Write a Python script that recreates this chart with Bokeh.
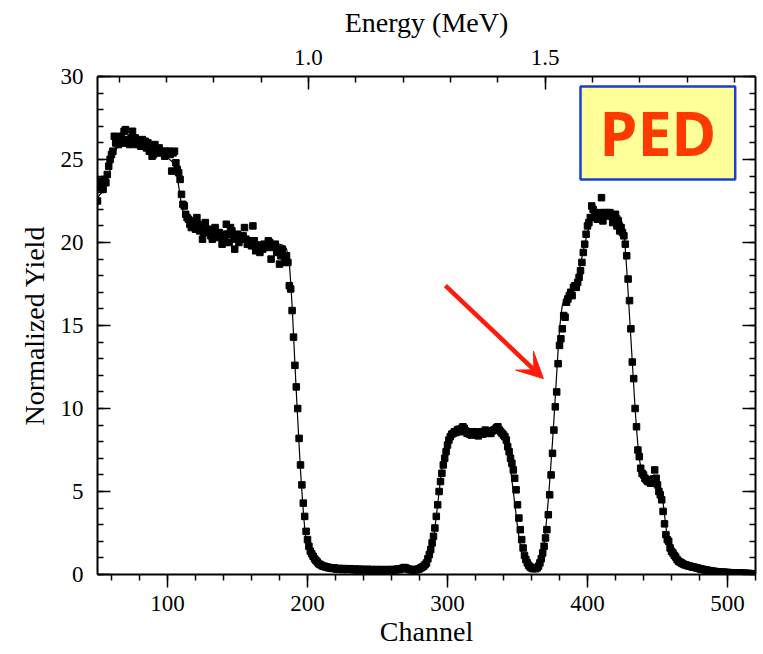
from bokeh.plotting import figure
from bokeh.models import (LinearAxis, Range1d, SingleIntervalTicker, PrintfTickFormatter,
                          CustomJSTickFormatter, BoxAnnotation, Label, Arrow, VeeHead)
from bokeh.embed import file_html
from bokeh.resources import INLINE

# ---------------- data ----------------
CHANNEL_START = 50
MEASURED_YIELD = [
    22.5, 23.7, 23.3, 23.5, 23.2, 23.8, 23.6, 24.1, 24.6, 25.0,   # 50
    25.3, 25.5, 26.4, 26.0, 26.0, 25.9, 26.2, 26.4, 26.0, 26.7,   # 60
    26.8, 26.0, 26.2, 25.9, 26.3, 26.7, 26.0, 26.3, 25.9, 26.1,   # 70
    26.0, 25.8, 26.2, 25.9, 26.1, 25.7, 26.0, 25.5, 25.8, 25.2,   # 80
    25.3, 25.9, 25.4, 25.6, 25.7, 25.4, 25.5, 25.4, 25.2, 25.5,   # 90
    25.4, 25.5, 25.3, 24.3, 25.4, 25.5, 24.8, 24.4, 24.2, 23.8,   # 100
    22.9, 22.3, 22.2, 21.7, 21.5, 21.4, 21.1, 20.9, 21.3, 21.0,   # 110
    20.8, 21.5, 21.1, 20.7, 20.9, 20.2, 20.6, 21.2, 20.6, 20.8,   # 120
    20.6, 20.4, 20.2, 20.7, 20.9, 20.5, 20.3, 20.6, 20.4, 19.9,   # 130
    20.5, 20.3, 21.1, 20.5, 20.0, 20.9, 20.7, 20.4, 19.6, 20.2,   # 140
    20.5, 20.0, 20.2, 20.3, 20.4, 20.9, 20.2, 19.9, 20.1, 20.0,   # 150
    19.8, 21.0, 20.1, 19.5, 19.6, 19.8, 19.4, 19.8, 19.6, 19.9,   # 160
    19.7, 19.8, 20.1, 20.0, 19.0, 19.7, 19.8, 19.9, 19.4, 19.6,   # 170
    18.7, 19.2, 19.6, 19.2, 18.8, 19.2, 18.8, 17.4, 17.2, 15.9,   # 180
    14.3, 12.6, 11.3, 10.0, 8.2, 6.6, 5.4, 4.3, 3.5, 2.6,         # 190
    2.1, 1.7, 1.4, 1.25, 1.1, 0.95, 0.85, 0.75, 0.65, 0.6,        # 200
    0.55, 0.5, 0.5, 0.45, 0.45, 0.4, 0.42, 0.38, 0.36, 0.4,       # 210
    0.35, 0.33, 0.37, 0.32, 0.35, 0.3, 0.36, 0.33, 0.3, 0.34,     # 220
    0.31, 0.35, 0.3, 0.28, 0.33, 0.3, 0.27, 0.32, 0.29, 0.31,     # 230
    0.28, 0.3, 0.26, 0.31, 0.29, 0.27, 0.3, 0.28, 0.25, 0.3,      # 240
    0.27, 0.29, 0.26, 0.3, 0.28, 0.25, 0.29, 0.27, 0.3, 0.26,     # 250
    0.28, 0.3, 0.27, 0.31, 0.29, 0.33, 0.3, 0.35, 0.38, 0.42,     # 260
    0.4, 0.36, 0.32, 0.3, 0.28, 0.3, 0.27, 0.3, 0.28, 0.32,       # 270
    0.35, 0.4, 0.45, 0.5, 0.6, 0.7, 0.95, 1.2, 1.5, 1.9,          # 280
    2.3, 2.8, 3.5, 4.2, 5.0, 5.6, 6.1, 6.6, 7.0, 7.4,             # 290
    7.8, 8.1, 8.3, 8.45, 8.5, 8.6, 8.55, 8.7, 8.75, 8.6,          # 300
    8.8, 8.9, 8.8, 8.65, 8.5, 8.6, 8.45, 8.4, 8.55, 8.6,          # 310
    8.5, 8.4, 8.35, 8.5, 8.6, 8.45, 8.5, 8.7, 8.55, 8.5,          # 320
    8.6, 8.5, 8.65, 8.7, 8.75, 8.85, 8.9, 8.7, 8.6, 8.5,          # 330
    8.4, 8.3, 8.1, 7.7, 7.4, 7.0, 6.7, 6.3, 5.8, 5.1,             # 340
    4.2, 3.4, 2.7, 2.1, 1.6, 1.15, 0.9, 0.7, 0.55, 0.45,          # 350
    0.4, 0.35, 0.4, 0.35, 0.4, 0.5, 0.7, 0.95, 1.3, 1.7,          # 360
    2.2, 2.7, 3.6, 4.8, 6.0, 7.3, 8.7, 10.1, 11.0, 12.7,          # 370
    13.8, 14.2, 14.8, 15.6, 15.5, 16.4, 16.6, 16.8, 17.0, 16.8,   # 380
    17.3, 17.4, 17.3, 17.6, 17.9, 18.3, 18.8, 19.4, 19.9, 20.5,   # 390
    21.0, 21.2, 21.5, 22.2, 22.0, 21.8, 21.6, 21.4, 21.7, 21.8,   # 400
    22.7, 21.3, 21.8, 21.6, 21.8, 21.7, 21.8, 21.6, 21.2, 21.5,   # 410
    21.7, 21.0, 21.3, 20.7, 20.9, 20.6, 20.4, 19.9, 19.2, 17.8,   # 420
    16.5, 14.8, 12.8, 11.8, 10.0, 8.9, 7.5, 7.1, 6.4, 6.1,        # 430
    6.0, 5.8, 5.7, 5.6, 5.6, 5.5, 5.7, 5.75, 6.3, 5.8,            # 440
    5.4, 5.0, 4.8, 4.5, 3.8, 3.05, 2.4, 2.1, 2.0, 1.6,            # 450
    1.4, 1.3, 1.15, 1.05, 0.9, 0.8, 0.75, 0.7, 0.65, 0.6,         # 460
    0.58, 0.55, 0.52, 0.5, 0.48, 0.45, 0.44, 0.42, 0.4, 0.38,     # 470
    0.35, 0.33, 0.31, 0.3, 0.28, 0.26, 0.25, 0.23, 0.22, 0.2,     # 480
    0.19, 0.18, 0.17, 0.16, 0.15, 0.14, 0.14, 0.13, 0.13, 0.12,   # 490
    0.12, 0.11, 0.11, 0.1, 0.1, 0.1, 0.09, 0.09, 0.09, 0.08,      # 500
    0.08, 0.07, 0.07, 0.07, 0.06, 0.06, 0.05, 0.05,               # 510
]
CHANNELS = list(range(CHANNEL_START, CHANNEL_START + len(MEASURED_YIELD)))

SIM_CHANNEL = [
    50, 53, 56, 58, 60, 62, 64, 66, 70, 75, 80, 85, 90, 95, 100, 103, 105, 106, 107, 108,
    109, 110, 111, 112, 114, 116, 120, 125, 130, 140, 150, 160, 170, 178, 182, 184, 185, 186, 187, 188,
    189, 190, 191, 192, 193, 194, 195, 196, 197, 198, 199, 200, 202, 204, 207, 210, 215, 220, 240, 260,
    275, 280, 283, 285, 287, 288, 289, 290, 291, 292, 293, 294, 295, 296, 297, 298, 299, 300, 302, 305,
    310, 320, 330, 338, 340, 341, 342, 343, 344, 345, 346, 347, 348, 349, 350, 351, 352, 353, 354, 355,
    356, 358, 360, 362, 364, 365, 366, 367, 368, 369, 370, 371, 372, 373, 374, 375, 376, 377, 378, 379,
    380, 381, 382, 383, 384, 386, 388, 390, 392, 394, 396, 398, 400, 402, 404, 407, 411, 416, 421, 423,
    424, 425, 426, 427, 428, 429, 430, 431, 432, 433, 434, 435, 436, 437, 438, 439, 441, 444, 448, 450,
    452, 453, 454, 455, 456, 457, 458, 459, 461, 463, 466, 470, 475, 480, 490, 500, 510, 520,
]
SIM_YIELD = [
    22.7, 23.0, 23.4, 24.0, 24.8, 25.4, 25.7, 25.8, 25.85, 25.8, 25.7, 25.6, 25.5, 25.4, 25.1, 24.9, 24.6, 24.3, 24.0, 23.4,
    22.8, 22.3, 21.9, 21.6, 21.2, 20.9, 20.75, 20.65, 20.55, 20.4, 20.25, 20.1, 20.0, 19.95, 19.85, 19.75, 19.6, 19.3, 18.8, 17.6,
    16.2, 14.5, 12.7, 11.0, 9.4, 7.8, 6.3, 5.0, 3.8, 2.8, 2.1, 1.6, 1.1, 0.8, 0.55, 0.42, 0.3, 0.25, 0.2, 0.2,
    0.2, 0.22, 0.3, 0.45, 0.8, 1.1, 1.6, 2.1, 2.8, 3.5, 4.2, 5.0, 5.7, 6.4, 7.0, 7.6, 8.0, 8.25, 8.45, 8.55,
    8.55, 8.5, 8.5, 8.5, 8.4, 8.2, 7.9, 7.5, 7.0, 6.4, 5.7, 5.0, 4.3, 3.6, 2.9, 2.3, 1.8, 1.35, 1.0, 0.75,
    0.55, 0.3, 0.2, 0.18, 0.25, 0.4, 0.6, 0.9, 1.3, 1.9, 2.6, 3.5, 4.5, 5.6, 6.8, 8.0, 9.3, 10.7, 12.1, 13.5,
    14.7, 15.6, 16.2, 16.5, 16.7, 16.9, 17.1, 17.3, 17.7, 18.3, 19.1, 19.9, 20.6, 21.1, 21.5, 21.7, 21.8, 21.8, 21.7, 21.6,
    21.4, 21.1, 20.5, 19.6, 18.4, 17.0, 15.6, 14.2, 12.8, 11.4, 10.0, 8.8, 7.8, 7.0, 6.5, 6.25, 6.05, 5.9, 5.85, 5.7,
    5.3, 4.9, 4.3, 3.6, 2.9, 2.2, 1.7, 1.3, 0.95, 0.75, 0.6, 0.48, 0.38, 0.3, 0.18, 0.12, 0.08, 0.05,
]

X_LIMITS = (50, 520)
Y_LIMITS = (0, 30)
# energy calibration of the top axis: E[MeV] = offset + gain * channel
E_OFFSET = 0.4066
E_GAIN = 0.002957

LABEL_BOX = dict(left=395, right=505.5, bottom=23.8, top=29.4)
LABEL_TEXT = "PED"
ARROW_FROM = (298.5, 17.4)
ARROW_TO = (368.5, 11.8)

SERIF = "Liberation Serif"

# ---------------- figure ----------------
p = figure(frame_width=658, frame_height=498,
           x_range=Range1d(*X_LIMITS), y_range=Range1d(*Y_LIMITS),
           output_backend="svg", toolbar_location=None,
           min_border_left=97, min_border_right=2, min_border_top=76, min_border_bottom=78)
p.outline_line_color = None
p.xgrid.visible = False
p.ygrid.visible = False
p.background_fill_color = "white"
p.border_fill_color = "white"

p.extra_x_ranges = {"energy": Range1d(E_OFFSET + E_GAIN * X_LIMITS[0],
                                      E_OFFSET + E_GAIN * X_LIMITS[1])}


def style_axis(ax, tin, tout):
    ax.axis_line_width = 2
    ax.axis_line_color = "black"
    ax.major_tick_line_width = 1.5
    ax.minor_tick_line_width = 1.5
    ax.major_tick_line_color = "black"
    ax.minor_tick_line_color = "black"
    ax.major_tick_in = tin
    ax.major_tick_out = tout
    ax.minor_tick_in = tin // 2 if tin else 0
    ax.minor_tick_out = tout // 2 if tout else 0
    ax.major_label_text_font = SERIF
    ax.major_label_text_font_size = "23px"
    ax.major_label_text_color = "black"
    ax.axis_label_text_font = SERIF
    ax.axis_label_text_font_size = "28px"
    ax.axis_label_text_font_style = "normal"
    ax.axis_label_text_color = "black"


xb = p.xaxis[0]
xb.ticker = SingleIntervalTicker(interval=100, num_minor_ticks=5)
xb.axis_label = "Channel"
style_axis(xb, 0, 13)
xb.major_label_standoff = 8
xb.axis_label_standoff = 2

yl = p.yaxis[0]
yl.ticker = SingleIntervalTicker(interval=5, num_minor_ticks=5)
yl.axis_label = "Normalized Yield"
style_axis(yl, 13, 0)
yl.major_label_standoff = 14
yl.axis_label_standoff = 8

xt = LinearAxis(x_range_name="energy", axis_label="Energy (MeV)",
                ticker=SingleIntervalTicker(interval=0.5, num_minor_ticks=5),
                formatter=PrintfTickFormatter(format="%.1f"))
style_axis(xt, 13, 0)
xt.major_label_standoff = 12
xt.axis_label_standoff = 9
p.add_layout(xt, "above")

yr = LinearAxis(ticker=SingleIntervalTicker(interval=5, num_minor_ticks=5),
                formatter=CustomJSTickFormatter(code="return '';"))
style_axis(yr, 13, 0)
yr.major_label_standoff = 0
p.add_layout(yr, "right")

# label box
p.add_layout(BoxAnnotation(left=LABEL_BOX["left"], right=LABEL_BOX["right"],
                           bottom=LABEL_BOX["bottom"], top=LABEL_BOX["top"],
                           fill_color="#FFFF99", fill_alpha=1.0,
                           line_color="#1A3FCC", line_alpha=1.0, line_width=2.5,
                           level="annotation"))
p.add_layout(Label(x=(LABEL_BOX["left"] + LABEL_BOX["right"]) / 2,
                   y=(LABEL_BOX["bottom"] + LABEL_BOX["top"]) / 2,
                   text=LABEL_TEXT, text_align="center", text_baseline="middle",
                   text_font="Noto Sans", text_font_style="bold",
                   text_font_size="61px", text_color="#FF3A00"))

# simulation line and measured points
p.line(SIM_CHANNEL, SIM_YIELD, line_color="black", line_width=1.2)
p.scatter(CHANNELS, MEASURED_YIELD, marker="square", size=6.5,
          fill_color="black", line_color="black")

# arrow
p.add_layout(Arrow(x_start=ARROW_FROM[0], y_start=ARROW_FROM[1],
                   x_end=ARROW_TO[0], y_end=ARROW_TO[1],
                   line_color="#FF1A0A", line_width=4.5,
                   end=VeeHead(size=26, fill_color="#FF1A0A", line_color="#FF1A0A")))

open("out.html", "w").write(file_html(p, INLINE))
